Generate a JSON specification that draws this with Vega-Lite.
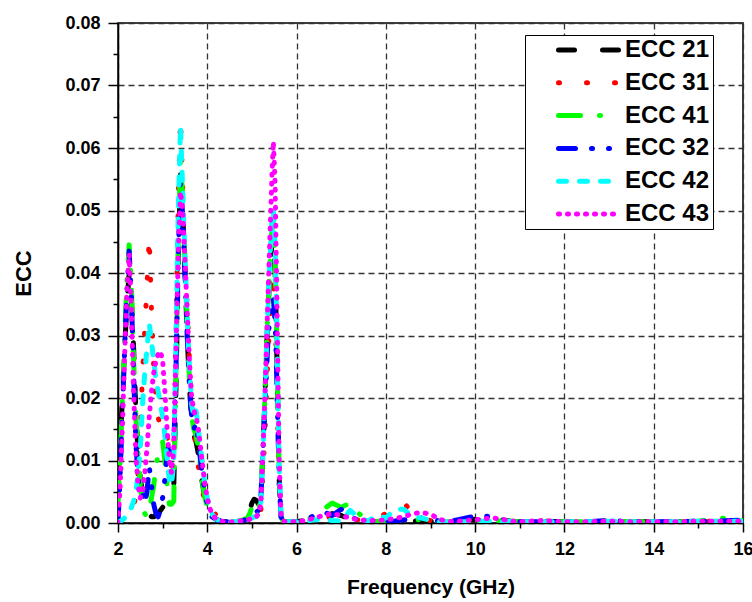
{
"$schema": "https://vega.github.io/schema/vega-lite/v6.json",
"width": 625,
"height": 500,
"autosize": {"type": "none"},
"padding": {"left": 118, "top": 23, "right": 9, "bottom": 79},
"background": "white",
"data": {"values": [
{"f":2.00,"ECC 21":0.009,"ECC 31":0,"ECC 41":0.003,"ECC 32":0,"ECC 42":0,"ECC 43":0},
{"f":2.05,"ECC 21":0.013,"ECC 31":0.0003,"ECC 41":0.010,"ECC 32":0.008,"ECC 42":0.0003,"ECC 43":0.006},
{"f":2.10,"ECC 21":0.020,"ECC 31":0.0005,"ECC 41":0.020,"ECC 32":0.018,"ECC 42":0.0005,"ECC 43":0.016},
{"f":2.15,"ECC 21":0.028,"ECC 31":0.0008,"ECC 41":0.030,"ECC 32":0.028,"ECC 42":0.0008,"ECC 43":0.027},
{"f":2.20,"ECC 21":0.035,"ECC 31":0.001,"ECC 41":0.039,"ECC 32":0.037,"ECC 42":0.001,"ECC 43":0.037},
{"f":2.25,"ECC 21":0.040,"ECC 31":0.0015,"ECC 41":0.0445,"ECC 32":0.0435,"ECC 42":0.0015,"ECC 43":0.043},
{"f":2.30,"ECC 21":0.036,"ECC 31":0.002,"ECC 41":0.038,"ECC 32":0.036,"ECC 42":0.0025,"ECC 43":0.034},
{"f":2.35,"ECC 21":0.028,"ECC 31":0.003,"ECC 41":0.026,"ECC 32":0.024,"ECC 42":0.0035,"ECC 43":0.021},
{"f":2.40,"ECC 21":0.018,"ECC 31":0.004,"ECC 41":0.017,"ECC 32":0.013,"ECC 42":0.005,"ECC 43":0.011},
{"f":2.45,"ECC 21":0.011,"ECC 31":0.008,"ECC 41":0.011,"ECC 32":0.007,"ECC 42":0.008,"ECC 43":0.006},
{"f":2.50,"ECC 21":0.007,"ECC 31":0.015,"ECC 41":0.006,"ECC 32":0.005,"ECC 42":0.012,"ECC 43":0.004},
{"f":2.55,"ECC 21":0.005,"ECC 31":0.024,"ECC 41":0.003,"ECC 32":0.005,"ECC 42":0.019,"ECC 43":0.005},
{"f":2.60,"ECC 21":0.003,"ECC 31":0.031,"ECC 41":0.0015,"ECC 32":0.003,"ECC 42":0.024,"ECC 43":0.008},
{"f":2.65,"ECC 21":0.002,"ECC 31":0.038,"ECC 41":0.001,"ECC 32":0.005,"ECC 42":0.028,"ECC 43":0.012},
{"f":2.70,"ECC 21":0.0015,"ECC 31":0.0458,"ECC 41":0.002,"ECC 32":0.009,"ECC 42":0.032,"ECC 43":0.017},
{"f":2.75,"ECC 21":0.001,"ECC 31":0.034,"ECC 41":0.004,"ECC 32":0.006,"ECC 42":0.029,"ECC 43":0.021},
{"f":2.80,"ECC 21":0.001,"ECC 31":0.025,"ECC 41":0.006,"ECC 32":0.003,"ECC 42":0.026,"ECC 43":0.024},
{"f":2.85,"ECC 21":0.0012,"ECC 31":0.020,"ECC 41":0.009,"ECC 32":0.0015,"ECC 42":0.023,"ECC 43":0.026},
{"f":2.90,"ECC 21":0.0015,"ECC 31":0.017,"ECC 41":0.011,"ECC 32":0.001,"ECC 42":0.021,"ECC 43":0.027},
{"f":2.95,"ECC 21":0.002,"ECC 31":0.015,"ECC 41":0.012,"ECC 32":0.002,"ECC 42":0.019,"ECC 43":0.0275},
{"f":3.00,"ECC 21":0.0025,"ECC 31":0.015,"ECC 41":0.013,"ECC 32":0.004,"ECC 42":0.017,"ECC 43":0.026},
{"f":3.05,"ECC 21":0.003,"ECC 31":0.0155,"ECC 41":0.010,"ECC 32":0.007,"ECC 42":0.014,"ECC 43":0.021},
{"f":3.10,"ECC 21":0.0035,"ECC 31":0.014,"ECC 41":0.006,"ECC 32":0.011,"ECC 42":0.010,"ECC 43":0.015},
{"f":3.15,"ECC 21":0.004,"ECC 31":0.011,"ECC 41":0.003,"ECC 32":0.013,"ECC 42":0.007,"ECC 43":0.010},
{"f":3.20,"ECC 21":0.004,"ECC 31":0.009,"ECC 41":0.003,"ECC 32":0.010,"ECC 42":0.006,"ECC 43":0.008},
{"f":3.25,"ECC 21":0.006,"ECC 31":0.012,"ECC 41":0.0035,"ECC 32":0.012,"ECC 42":0.010,"ECC 43":0.012},
{"f":3.30,"ECC 21":0.022,"ECC 31":0.030,"ECC 41":0.025,"ECC 32":0.025,"ECC 42":0.030,"ECC 43":0.028},
{"f":3.35,"ECC 21":0.042,"ECC 31":0.052,"ECC 41":0.045,"ECC 32":0.043,"ECC 42":0.050,"ECC 43":0.043},
{"f":3.40,"ECC 21":0.0557,"ECC 31":0.0648,"ECC 41":0.058,"ECC 32":0.0545,"ECC 42":0.0635,"ECC 43":0.053},
{"f":3.45,"ECC 21":0.050,"ECC 31":0.054,"ECC 41":0.052,"ECC 32":0.049,"ECC 42":0.053,"ECC 43":0.050},
{"f":3.50,"ECC 21":0.040,"ECC 31":0.040,"ECC 41":0.042,"ECC 32":0.040,"ECC 42":0.043,"ECC 43":0.042},
{"f":3.55,"ECC 21":0.030,"ECC 31":0.035,"ECC 41":0.032,"ECC 32":0.030,"ECC 42":0.033,"ECC 43":0.034},
{"f":3.60,"ECC 21":0.022,"ECC 31":0.026,"ECC 41":0.023,"ECC 32":0.022,"ECC 42":0.025,"ECC 43":0.026},
{"f":3.65,"ECC 21":0.016,"ECC 31":0.019,"ECC 41":0.017,"ECC 32":0.017,"ECC 42":0.019,"ECC 43":0.020},
{"f":3.70,"ECC 21":0.014,"ECC 31":0.015,"ECC 41":0.015,"ECC 32":0.015,"ECC 42":0.017,"ECC 43":0.018},
{"f":3.75,"ECC 21":0.013,"ECC 31":0.012,"ECC 41":0.014,"ECC 32":0.016,"ECC 42":0.018,"ECC 43":0.017},
{"f":3.80,"ECC 21":0.011,"ECC 31":0.009,"ECC 41":0.012,"ECC 32":0.013,"ECC 42":0.015,"ECC 43":0.015},
{"f":3.85,"ECC 21":0.008,"ECC 31":0.007,"ECC 41":0.009,"ECC 32":0.010,"ECC 42":0.012,"ECC 43":0.012},
{"f":3.90,"ECC 21":0.006,"ECC 31":0.005,"ECC 41":0.006,"ECC 32":0.007,"ECC 42":0.009,"ECC 43":0.009},
{"f":3.95,"ECC 21":0.004,"ECC 31":0.003,"ECC 41":0.004,"ECC 32":0.005,"ECC 42":0.006,"ECC 43":0.006},
{"f":4.00,"ECC 21":0.0025,"ECC 31":0.002,"ECC 41":0.0025,"ECC 32":0.003,"ECC 42":0.004,"ECC 43":0.004},
{"f":4.05,"ECC 21":0.0015,"ECC 31":0.0015,"ECC 41":0.0015,"ECC 32":0.002,"ECC 42":0.0025,"ECC 43":0.0025},
{"f":4.10,"ECC 21":0.001,"ECC 31":0.001,"ECC 41":0.001,"ECC 32":0.001,"ECC 42":0.0015,"ECC 43":0.0015},
{"f":4.20,"ECC 21":0.0005,"ECC 31":0.0015,"ECC 41":0.0006,"ECC 32":0.0006,"ECC 42":0.0006,"ECC 43":0.0006},
{"f":4.30,"ECC 21":0.0003,"ECC 31":0.0003,"ECC 41":0.0003,"ECC 32":0.0003,"ECC 42":0.0003,"ECC 43":0.0003},
{"f":4.40,"ECC 21":0.0002,"ECC 31":0.0002,"ECC 41":0.0002,"ECC 32":0.0002,"ECC 42":0.0002,"ECC 43":0.0002},
{"f":4.50,"ECC 21":0.0001,"ECC 31":0.0001,"ECC 41":0.0001,"ECC 32":0.0001,"ECC 42":0.0001,"ECC 43":0.0001},
{"f":4.60,"ECC 21":0.0002,"ECC 31":0.0002,"ECC 41":0.0002,"ECC 32":0.0002,"ECC 42":0.0002,"ECC 43":0.0002},
{"f":4.70,"ECC 21":0.0003,"ECC 31":0.0003,"ECC 41":0.0003,"ECC 32":0.0003,"ECC 42":0.0003,"ECC 43":0.0003},
{"f":4.80,"ECC 21":0.0005,"ECC 31":0.0004,"ECC 41":0.0005,"ECC 32":0.0004,"ECC 42":0.0003,"ECC 43":0.0004},
{"f":4.90,"ECC 21":0.001,"ECC 31":0.0005,"ECC 41":0.0008,"ECC 32":0.0006,"ECC 42":0.0004,"ECC 43":0.0005},
{"f":4.95,"ECC 21":0.002,"ECC 31":0.0006,"ECC 41":0.0015,"ECC 32":0.0006,"ECC 42":0.0006,"ECC 43":0.0006},
{"f":5.00,"ECC 21":0.0032,"ECC 31":0.0008,"ECC 41":0.0025,"ECC 32":0.001,"ECC 42":0.0008,"ECC 43":0.0008},
{"f":5.05,"ECC 21":0.0038,"ECC 31":0.001,"ECC 41":0.003,"ECC 32":0.0015,"ECC 42":0.001,"ECC 43":0.001},
{"f":5.10,"ECC 21":0.0036,"ECC 31":0.001,"ECC 41":0.0028,"ECC 32":0.0018,"ECC 42":0.001,"ECC 43":0.001},
{"f":5.15,"ECC 21":0.0030,"ECC 31":0.0015,"ECC 41":0.002,"ECC 32":0.002,"ECC 42":0.0015,"ECC 43":0.0015},
{"f":5.20,"ECC 21":0.004,"ECC 31":0.002,"ECC 41":0.004,"ECC 32":0.004,"ECC 42":0.003,"ECC 43":0.003},
{"f":5.25,"ECC 21":0.012,"ECC 31":0.008,"ECC 41":0.012,"ECC 32":0.012,"ECC 42":0.012,"ECC 43":0.012},
{"f":5.30,"ECC 21":0.022,"ECC 31":0.016,"ECC 41":0.022,"ECC 32":0.020,"ECC 42":0.022,"ECC 43":0.022},
{"f":5.35,"ECC 21":0.032,"ECC 31":0.025,"ECC 41":0.033,"ECC 32":0.028,"ECC 42":0.033,"ECC 43":0.034},
{"f":5.40,"ECC 21":0.040,"ECC 31":0.033,"ECC 41":0.041,"ECC 32":0.033,"ECC 42":0.042,"ECC 43":0.045},
{"f":5.45,"ECC 21":0.045,"ECC 31":0.038,"ECC 41":0.047,"ECC 32":0.036,"ECC 42":0.049,"ECC 43":0.056},
{"f":5.48,"ECC 21":0.046,"ECC 31":0.040,"ECC 41":0.048,"ECC 32":0.036,"ECC 42":0.050,"ECC 43":0.061},
{"f":5.52,"ECC 21":0.040,"ECC 31":0.033,"ECC 41":0.042,"ECC 32":0.032,"ECC 42":0.044,"ECC 43":0.054},
{"f":5.55,"ECC 21":0.030,"ECC 31":0.025,"ECC 41":0.032,"ECC 32":0.025,"ECC 42":0.034,"ECC 43":0.040},
{"f":5.58,"ECC 21":0.018,"ECC 31":0.015,"ECC 41":0.020,"ECC 32":0.016,"ECC 42":0.021,"ECC 43":0.025},
{"f":5.61,"ECC 21":0.007,"ECC 31":0.006,"ECC 41":0.008,"ECC 32":0.007,"ECC 42":0.009,"ECC 43":0.010},
{"f":5.65,"ECC 21":0.001,"ECC 31":0.001,"ECC 41":0.001,"ECC 32":0.001,"ECC 42":0.0015,"ECC 43":0.0015},
{"f":5.70,"ECC 21":0.0003,"ECC 31":0.0003,"ECC 41":0.0003,"ECC 32":0.0003,"ECC 42":0.0003,"ECC 43":0.0003},
{"f":5.80,"ECC 21":0.0002,"ECC 31":0.0002,"ECC 41":0.0002,"ECC 32":0.0002,"ECC 42":0.0002,"ECC 43":0.0002},
{"f":6.00,"ECC 21":0.0002,"ECC 31":0.0002,"ECC 41":0.0002,"ECC 32":0.0002,"ECC 42":0.0002,"ECC 43":0.0002},
{"f":6.20,"ECC 21":0.0004,"ECC 31":0.0003,"ECC 41":0.0004,"ECC 32":0.0005,"ECC 42":0.0003,"ECC 43":0.0004},
{"f":6.40,"ECC 21":0.0006,"ECC 31":0.0005,"ECC 41":0.0012,"ECC 32":0.0012,"ECC 42":0.0005,"ECC 43":0.0008},
{"f":6.60,"ECC 21":0.001,"ECC 31":0.0008,"ECC 41":0.0022,"ECC 32":0.0018,"ECC 42":0.0006,"ECC 43":0.0012},
{"f":6.80,"ECC 21":0.0015,"ECC 31":0.001,"ECC 41":0.0032,"ECC 32":0.0012,"ECC 42":0.0004,"ECC 43":0.0015},
{"f":7.00,"ECC 21":0.0012,"ECC 31":0.0008,"ECC 41":0.0025,"ECC 32":0.0022,"ECC 42":0.0003,"ECC 43":0.0012},
{"f":7.20,"ECC 21":0.0006,"ECC 31":0.0006,"ECC 41":0.0032,"ECC 32":0.001,"ECC 42":0.002,"ECC 43":0.0008},
{"f":7.40,"ECC 21":0.0003,"ECC 31":0.0005,"ECC 41":0.0015,"ECC 32":0.0004,"ECC 42":0.0008,"ECC 43":0.0005},
{"f":7.60,"ECC 21":0.0002,"ECC 31":0.0004,"ECC 41":0.0004,"ECC 32":0.0003,"ECC 42":0.0003,"ECC 43":0.0004},
{"f":7.80,"ECC 21":0.0002,"ECC 31":0.0008,"ECC 41":0.0003,"ECC 32":0.0003,"ECC 42":0.0012,"ECC 43":0.0004},
{"f":8.00,"ECC 21":0.0002,"ECC 31":0.0015,"ECC 41":0.0003,"ECC 32":0.0003,"ECC 42":0.0008,"ECC 43":0.0005},
{"f":8.20,"ECC 21":0.0002,"ECC 31":0.0025,"ECC 41":0.0003,"ECC 32":0.0003,"ECC 42":0.0022,"ECC 43":0.0007},
{"f":8.40,"ECC 21":0.0003,"ECC 31":0.0033,"ECC 41":0.0004,"ECC 32":0.0005,"ECC 42":0.0022,"ECC 43":0.001},
{"f":8.60,"ECC 21":0.0003,"ECC 31":0.0015,"ECC 41":0.0004,"ECC 32":0.0006,"ECC 42":0.001,"ECC 43":0.0015},
{"f":8.80,"ECC 21":0.0004,"ECC 31":0.0006,"ECC 41":0.0006,"ECC 32":0.0008,"ECC 42":0.0008,"ECC 43":0.0017},
{"f":9.00,"ECC 21":0.0003,"ECC 31":0.0004,"ECC 41":0.0004,"ECC 32":0.0007,"ECC 42":0.0004,"ECC 43":0.0014},
{"f":9.20,"ECC 21":0.0002,"ECC 31":0.0002,"ECC 41":0.0002,"ECC 32":0.0003,"ECC 42":0.0002,"ECC 43":0.0006},
{"f":9.40,"ECC 21":0.0002,"ECC 31":0.0002,"ECC 41":0.0002,"ECC 32":0.0002,"ECC 42":0.0002,"ECC 43":0.0002},
{"f":9.60,"ECC 21":0.0003,"ECC 31":0.0002,"ECC 41":0.0002,"ECC 32":0.0005,"ECC 42":0.0002,"ECC 43":0.0003},
{"f":9.80,"ECC 21":0.0004,"ECC 31":0.0002,"ECC 41":0.0003,"ECC 32":0.0008,"ECC 42":0.0002,"ECC 43":0.0004},
{"f":10.0,"ECC 21":0.0006,"ECC 31":0.0002,"ECC 41":0.0003,"ECC 32":0.0011,"ECC 42":0.0002,"ECC 43":0.0005},
{"f":10.2,"ECC 21":0.0009,"ECC 31":0.0003,"ECC 41":0.0005,"ECC 32":0.0012,"ECC 42":0.0003,"ECC 43":0.0007},
{"f":10.4,"ECC 21":0.0009,"ECC 31":0.0003,"ECC 41":0.0004,"ECC 32":0.0008,"ECC 42":0.0003,"ECC 43":0.0008},
{"f":10.6,"ECC 21":0.0005,"ECC 31":0.0002,"ECC 41":0.0003,"ECC 32":0.0004,"ECC 42":0.0002,"ECC 43":0.0006},
{"f":10.8,"ECC 21":0.0003,"ECC 31":0.0003,"ECC 41":0.0003,"ECC 32":0.0003,"ECC 42":0.0003,"ECC 43":0.0003},
{"f":11.0,"ECC 21":0.0002,"ECC 31":0.0002,"ECC 41":0.0002,"ECC 32":0.0002,"ECC 42":0.0002,"ECC 43":0.0002},
{"f":11.5,"ECC 21":0.0003,"ECC 31":0.0002,"ECC 41":0.0002,"ECC 32":0.0002,"ECC 42":0.0002,"ECC 43":0.0004},
{"f":12.0,"ECC 21":0.0002,"ECC 31":0.0002,"ECC 41":0.0002,"ECC 32":0.0002,"ECC 42":0.0002,"ECC 43":0.0002},
{"f":12.5,"ECC 21":0.0002,"ECC 31":0.0002,"ECC 41":0.0002,"ECC 32":0.0002,"ECC 42":0.0002,"ECC 43":0.0002},
{"f":13.0,"ECC 21":0.0003,"ECC 31":0.0003,"ECC 41":0.0003,"ECC 32":0.0004,"ECC 42":0.0003,"ECC 43":0.0003},
{"f":13.5,"ECC 21":0.0002,"ECC 31":0.0002,"ECC 41":0.0002,"ECC 32":0.0002,"ECC 42":0.0002,"ECC 43":0.0002},
{"f":14.0,"ECC 21":0.0002,"ECC 31":0.0002,"ECC 41":0.0002,"ECC 32":0.0002,"ECC 42":0.0002,"ECC 43":0.0002},
{"f":14.5,"ECC 21":0.0002,"ECC 31":0.0002,"ECC 41":0.0002,"ECC 32":0.0002,"ECC 42":0.0002,"ECC 43":0.0002},
{"f":15.0,"ECC 21":0.0003,"ECC 31":0.0003,"ECC 41":0.0003,"ECC 32":0.0003,"ECC 42":0.0003,"ECC 43":0.0003},
{"f":15.5,"ECC 21":0.0003,"ECC 31":0.0003,"ECC 41":0.0008,"ECC 32":0.0003,"ECC 42":0.0003,"ECC 43":0.0003},
{"f":16.0,"ECC 21":0.0003,"ECC 31":0.0003,"ECC 41":0.0004,"ECC 32":0.0005,"ECC 42":0.0003,"ECC 43":0.0003}
]},
"transform": [
{"fold": ["ECC 21","ECC 31","ECC 41","ECC 32","ECC 42","ECC 43"], "as": ["series","ecc"]}
],
"mark": {"type": "line", "strokeWidth": 5, "strokeCap": "round", "strokeJoin": "round", "clip": true},
"encoding": {
"x": {"field": "f", "type": "quantitative",
  "scale": {"domain": [2, 16], "nice": false, "zero": false},
  "axis": {"title": "Frequency (GHz)", "values": [2,3,4,5,6,7,8,9,10,11,12,13,14,15,16],
    "labelExpr": "datum.value % 2 == 0 ? datum.label : ''", "labelFlush": false,
    "tickSize": {"condition": {"test": "datum.value % 2 == 0", "value": 9}, "value": 5},
    "gridOpacity": {"condition": {"test": "datum.value % 2 == 0", "value": 1}, "value": 0},
    "labelPadding": 8, "titlePadding": 18, "labelFontSize": 18, "titleFontSize": 21}},
"y": {"field": "ecc", "type": "quantitative",
  "scale": {"domain": [0, 0.08], "nice": false},
  "axis": {"title": "ECC", "values": [0,0.005,0.01,0.015,0.02,0.025,0.03,0.035,0.04,0.045,0.05,0.055,0.06,0.065,0.07,0.075,0.08],
    "labelExpr": "round(datum.value*200) % 2 == 0 ? format(datum.value, '.2f') : ''", "labelFlush": false,
    "tickSize": {"condition": {"test": "round(datum.value*200) % 2 == 0", "value": 10}, "value": 5},
    "gridOpacity": {"condition": {"test": "round(datum.value*200) % 2 == 0", "value": 1}, "value": 0},
    "labelPadding": 8, "titlePadding": 29, "labelFontSize": 18, "titleFontSize": 22}},
"color": {"field": "series", "type": "nominal",
  "scale": {"domain": ["ECC 21","ECC 31","ECC 41","ECC 32","ECC 42","ECC 43"],
            "range": ["#000000","#ff0000","#00ff00","#0000ff","#00ffff","#ff00ff"]},
  "legend": {"title": null, "encode": {"symbols": {"update": {"strokeCap": {"value": "round"}}}}}},
"strokeDash": {"field": "series", "type": "nominal",
  "scale": {"domain": ["ECC 21","ECC 31","ECC 41","ECC 32","ECC 42","ECC 43"],
            "range": [[16,28],[1,27],[22,19,1,19],[17,16,1,16,1,16],[8,13],[1,8]]},
  "legend": {"title": null, "encode": {"symbols": {"update": {"strokeCap": {"value": "round"}}}}}}
},
"config": {
  "font": "Liberation Sans",
  "view": {"stroke": "#000000", "strokeWidth": 1.5},
  "axis": {
    "domainColor": "#000000", "domainWidth": 1.5,
    "tickColor": "#000000", "tickWidth": 1.5,
    "labelColor": "#000000", "labelFontWeight": "bold", "labelFont": "Liberation Sans",
    "titleColor": "#000000", "titleFontWeight": "bold", "titleFont": "Liberation Sans",
    "grid": true, "gridColor": "#333333", "gridDash": [6, 4], "gridWidth": 1.3
  },
  "legend": {
    "orient": "none", "legendX": 407, "legendY": 12,
    "strokeColor": "#000000", "fillColor": "#ffffff", "padding": 3,
    "symbolType": "stroke", "symbolSize": 3600, "symbolStrokeWidth": 5,
    "symbolOffset": 28, "clipHeight": 24, "rowPadding": 8.8,
    "labelFont": "Liberation Sans", "labelFontSize": 24, "labelFontWeight": "bold",
    "labelColor": "#000000", "labelOffset": 4, "labelLimit": 200
  }
}
}
